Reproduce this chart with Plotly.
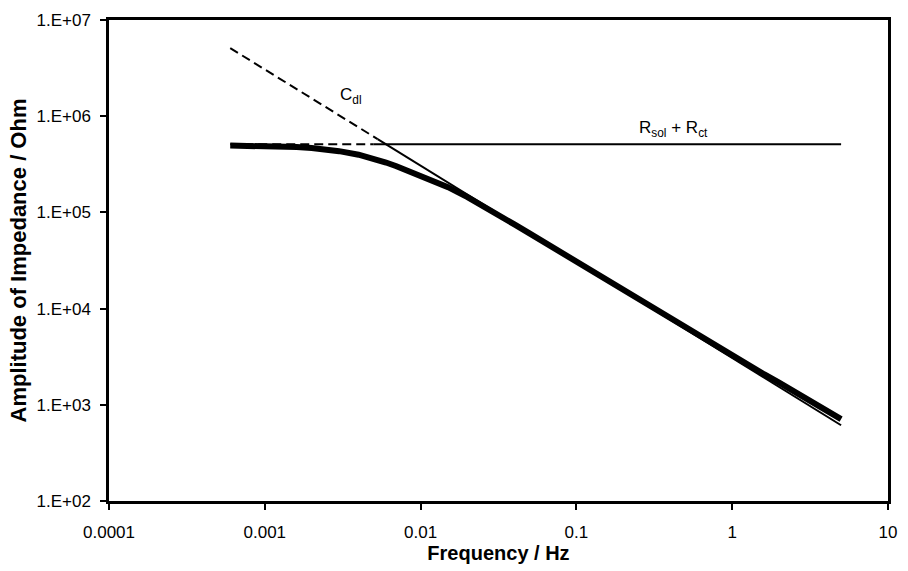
import plotly.graph_objects as go

freq = [0.0006, 0.0008, 0.001, 0.0013, 0.0016, 0.002, 0.0025, 0.003, 0.004, 0.005,
        0.006, 0.007, 0.0085, 0.01, 0.0126, 0.015, 0.02, 0.025, 0.03, 0.04, 0.05,
        0.07, 0.1, 0.15, 0.2, 0.3, 0.4, 0.5, 0.7, 1.0, 1.3, 1.6, 2.0, 2.5, 3.0,
        3.5, 4.0, 4.5, 5.0]
z_meas = [4.95e5, 4.93e5, 4.9e5, 4.85e5, 4.78e5, 4.66e5, 4.5e5, 4.33e5, 3.98e5, 3.62e5,
          3.30e5, 3.02e5, 2.66e5, 2.36e5, 2.02e5, 1.83e5, 1.44e5, 1.18e5, 9.9e4, 7.5e4, 6.05e4,
          4.35e4, 3.07e4, 2.06e4, 1.55e4, 1.04e4, 7.9e3, 6.35e3, 4.6e3, 3.25e3, 2.55e3,
          2.08e3, 1.70e3, 1.38e3, 1.16e3, 1.00e3, 8.9e2, 7.9e2, 7.1e2]

# Asymptote lines
cdl_dash_f = [0.0006, 0.0053]
cdl_dash_z = [5.1e6, 5.78e5]
cdl_solid_f = [0.0053, 5.0]
cdl_solid_z = [5.78e5, 6.13e2]

r_dash_f = [0.0006, 0.005]
r_dash_z = [5.1e5, 5.1e5]
r_solid_f = [0.005, 5.0]
r_solid_z = [5.1e5, 5.1e5]

xtick_vals = [0.0001, 0.001, 0.01, 0.1, 1, 10]
xtick_text = ["0.0001", "0.001", "0.01", "0.1", "1", "10"]
ytick_vals = [1e2, 1e3, 1e4, 1e5, 1e6, 1e7]
ytick_text = ["1.E+02", "1.E+03", "1.E+04", "1.E+05", "1.E+06", "1.E+07"]

FONT = "Liberation Sans, Arial, Helvetica, sans-serif"

fig = go.Figure()
fig.add_trace(go.Scatter(x=cdl_dash_f, y=cdl_dash_z, mode="lines",
                         line=dict(color="black", width=2, dash="9px,5px")))
fig.add_trace(go.Scatter(x=cdl_solid_f, y=cdl_solid_z, mode="lines",
                         line=dict(color="black", width=2)))
fig.add_trace(go.Scatter(x=r_dash_f, y=r_dash_z, mode="lines",
                         line=dict(color="black", width=2, dash="9px,5px")))
fig.add_trace(go.Scatter(x=r_solid_f, y=r_solid_z, mode="lines",
                         line=dict(color="black", width=2)))
fig.add_trace(go.Scatter(x=freq, y=z_meas, mode="lines",
                         line=dict(color="black", width=6)))

fig.add_annotation(x=-2.445, y=6.21, xref="x", yref="y", showarrow=False,
                   text="C<sub>dl</sub>", font=dict(size=17, color="black", family=FONT))
fig.add_annotation(x=-0.377, y=5.87, xref="x", yref="y", showarrow=False,
                   text="R<sub>sol</sub> + R<sub>ct</sub>",
                   font=dict(size=17, color="black", family=FONT))

axis_common = dict(showgrid=False, zeroline=False, showline=True, linecolor="black",
                   linewidth=2.5, mirror=True, ticks="outside", ticklen=6,
                   tickcolor="black", tickwidth=1.5,
                   tickfont=dict(size=17, color="black", family=FONT))

fig.update_xaxes(type="log", range=[-4, 1], tickvals=xtick_vals, ticktext=xtick_text,
                 ticklabelstandoff=8,
                 title=dict(text="<b>Frequency / Hz</b>", standoff=4,
                            font=dict(size=20, color="black", family=FONT)),
                 **axis_common)
fig.update_yaxes(type="log", range=[2, 7], tickvals=ytick_vals, ticktext=ytick_text,
                 ticklabelstandoff=6,
                 title=dict(text="<b>Amplitude of Impedance / Ohm</b>", standoff=4,
                            font=dict(size=22, color="black", family=FONT)),
                 **axis_common)

fig.update_layout(width=908, height=571, showlegend=False,
                  margin=dict(l=109, r=11, t=19, b=69),
                  paper_bgcolor="white", plot_bgcolor="white")

fig.write_html("out.html")
